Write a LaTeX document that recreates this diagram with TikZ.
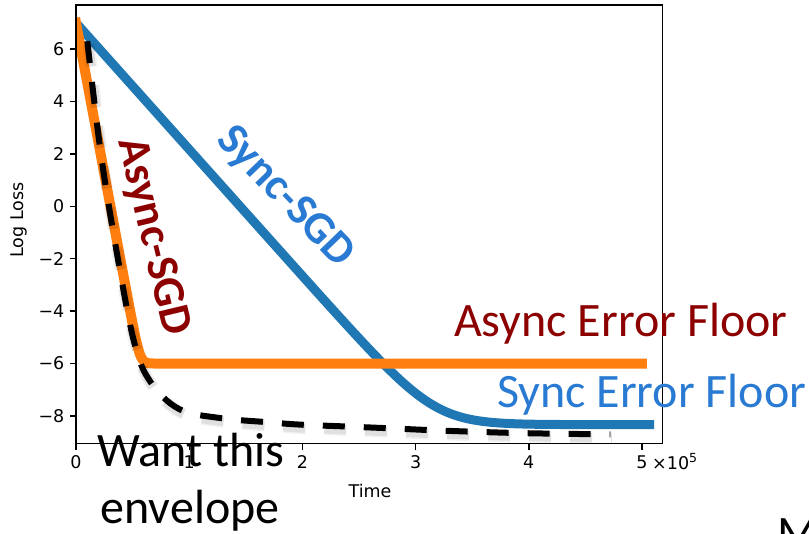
\documentclass[tikz,border=0pt]{standalone}
\usepackage{fontspec}
\setmainfont{Carlito}
\newfontfamily\mplfont{DejaVu Sans}
\definecolor{mplblue}{HTML}{1F77B4}
\definecolor{mplorange}{HTML}{FF7F0E}
\definecolor{syncblue}{RGB}{40,122,210}
\definecolor{asyncred}{RGB}{140,0,0}
\tikzset{
  ticklabel/.style={font=\mplfont\fontsize{17.5}{20}\selectfont, inner sep=0pt},
  axislabel/.style={font=\mplfont\fontsize{17.5}{20}\selectfont, inner sep=0pt},
  callout/.style={font=\fontsize{48}{56}\selectfont, inner sep=0pt},
  curvelabel/.style={font=\bfseries\fontsize{45}{52}\selectfont, inner sep=0pt},
  spine/.style={line width=1.4pt, line cap=rect},
  tickmark/.style={line width=1.4pt},
  curve/.style={line width=#1, line cap=rect, line join=round},
  envelope/.style={black, line width=6pt, dash pattern=on 22pt off 19pt, line join=round},
}
\begin{document}
\begin{tikzpicture}[x=1pt, y=-1pt,
  declare function={sp(\z)=max(\z,0)+ln(1+exp(-min(abs(\z),9)));}]
\clip (0,0) rectangle (809,534);
\fill[white] (0,0) rectangle (809,534);

% data coordinates: time in units of 1e5, log loss upwards
\begin{scope}[shift={(76pt,-206.3pt)}, x=113.2pt, y=26.21pt]
  \begin{scope}
    \clip (0,-9.05) rectangle (5.18,7.675);
    % Sync-SGD
    \draw[mplblue, curve=9pt] plot[domain=0:5.07, samples=200]
      (\x, {-8.33 + sp(15.33 - 4.83*\x)});
    % Async-SGD
    \draw[mplorange, curve=10pt] plot[domain=0:5.0, samples=400]
      (\x, {-6 + 0.5*sp((13 - 23*\x)/0.5)});
    % desired envelope, with its soft shadow
    \foreach \w/\o in {12pt/0.05, 9pt/0.07} {
      \draw[envelope, opacity=\o, line width=\w, shift={(1.5pt,-3.5pt)}]
        plot[smooth, tension=0.6] coordinates {
          (0.10,6.3) (0.22,2.0) (0.37,-2.0) (0.516,-5.22) (0.658,-6.70)
          (0.913,-7.74) (1.275,-8.08) (1.67,-8.23) (1.98,-8.33) (2.38,-8.40)
          (2.77,-8.47) (3.13,-8.54) (3.5,-8.60) (3.9,-8.65) (4.3,-8.68) (4.72,-8.70)};
    }
    \draw[envelope]
      plot[smooth, tension=0.6] coordinates {
        (0.10,6.3) (0.22,2.0) (0.37,-2.0) (0.516,-5.22) (0.658,-6.70)
        (0.913,-7.74) (1.275,-8.08) (1.67,-8.23) (1.98,-8.33) (2.38,-8.40)
        (2.77,-8.47) (3.13,-8.54) (3.5,-8.60) (3.9,-8.65) (4.3,-8.68) (4.72,-8.70)};
  \end{scope}

  % axes frame
  \draw[spine] (0,-9.05) rectangle (5.18,7.675);

  % y ticks
  \foreach \v/\lab in {6/6,4/4,2/2,0/0,-2/−2,-4/−4,-6/−6,-8/−8} {
    \draw[tickmark] (0,\v) -- ++(-6pt,0);
    \path (0,\v) ++(-11.5pt,0) node[ticklabel, anchor=east] (ylab\lab) {\lab};
  }
  % x ticks
  \foreach \t in {0,1,2,3,4,5} {
    \draw[tickmark] (\t,-9.05) -- ++(0,-6pt);
    \path (\t,-9.05) ++(0,-12pt) node[ticklabel, anchor=north] (xlab\t) {\t};
  }
\end{scope}

% offset text of the time axis
\node[ticklabel, anchor=base west] (offset) at (652,470)
  {×10\raisebox{0.42em}{\fontsize{12.5}{14}\selectfont 5}};

% axis labels
\node[axislabel, anchor=base] (timelab) at (370,497) {Time};
\node[axislabel, rotate=90] (losslab) at (18.5,220) {Log Loss};

% curve names
\node[curvelabel, syncblue, rotate=-46] (synclab) at (285,197) {Sync-SGD};
\node[curvelabel, asyncred, rotate=-76.5] (asynclab) at (152.5,237) {Async-SGD};

% floor annotations
\node[callout, asyncred, anchor=base west] (asyncfloor) at (454,337) {Async Error Floor};
\node[callout, syncblue, anchor=base west] (syncfloor) at (497,408) {Sync Error Floor};

% envelope note
\node[callout, anchor=base] (want) at (191,467) {Want this};
\node[callout, anchor=base] (env) at (190,523) {envelope};

% edge of a further caption
\node[callout, anchor=base west] (edge) at (777,549) {M};
\end{tikzpicture}
\end{document}
